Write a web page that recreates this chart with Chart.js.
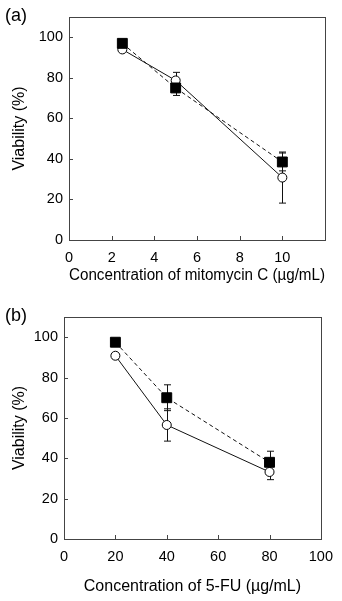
<!DOCTYPE html>
<html lang="en">
<head>
<meta charset="UTF-8">
<title>Viability</title>
<script src="https://cdn.jsdelivr.net/npm/chart.js"></script>
<style>
  body { margin: 0; background: #fff; font-family: 'Liberation Sans', Arial, sans-serif; }
  .panel { position: absolute; left: 0; width: 342px; }
  .tag { position: absolute; left: 5px; font-size: 18px; line-height: 18px; color: #000; }
</style>
</head>
<body>
<div class="panel" style="top:0;height:300px;"><canvas id="chartA" width="342" height="300"></canvas></div>
<div class="tag" style="top:6px;">(a)</div>
<div class="panel" style="top:300px;height:301px;"><canvas id="chartB" width="342" height="301"></canvas></div>
<div class="tag" style="top:306px;">(b)</div>
<script>
// panel (a) mitomycin C
const concMito = [2.5, 5, 10];
const mitoSquare = [97, 75, 38.5];
const mitoSquareErr = [1.5, 3.7, 4.4];
const mitoCircle = [94, 78.7, 30.8];
const mitoCircleErr = [1, 4, 12.6];

// panel (b) 5-FU
const concFU = [20, 40, 80];
const fuSquare = [97.5, 70, 38];
const fuSquareErr = [1.5, 6.4, 5.5];
const fuCircle = [90.8, 56.5, 33.2];
const fuCircleErr = [1.5, 8, 3.8];

const yMax = 110;
const yLabelMax = 100;

const ink = '#111';
const tickFont = { family: "'Liberation Sans', Arial, sans-serif", size: 14.5 };
const titleFont = { family: "'Liberation Sans', Arial, sans-serif", size: 16 };

function pts(xs, ys) {
  return xs.map((x, i) => ({ x: x, y: ys[i] }));
}

const framePlugin = {
  id: 'frame',
  beforeDatasetsDraw(chart) {
    const ctx = chart.ctx;
    const a = chart.chartArea;
    const xs = chart.scales.x, ys = chart.scales.y;
    ctx.save();
    // box
    ctx.strokeStyle = '#444';
    ctx.lineWidth = 1;
    ctx.strokeRect(Math.round(a.left) + 0.5, Math.round(a.top) + 0.5,
      Math.round(a.right - a.left), Math.round(a.bottom - a.top));
    // inside ticks
    ctx.beginPath();
    xs.ticks.forEach(t => {
      if (t.value <= xs.min || t.value >= xs.max) return;
      const px = Math.round(xs.getPixelForValue(t.value)) + 0.5;
      ctx.moveTo(px, a.bottom);
      ctx.lineTo(px, a.bottom - 4);
    });
    ys.ticks.forEach(t => {
      if (t.value <= ys.min || t.value >= ys.max) return;
      const py = Math.round(ys.getPixelForValue(t.value)) + 0.5;
      ctx.moveTo(a.left, py);
      ctx.lineTo(a.left + 4, py);
    });
    ctx.stroke();
    // error bars
    ctx.strokeStyle = ink;
    ctx.beginPath();
    chart.data.datasets.forEach(ds => {
      ds.data.forEach((p, i) => {
        const e = ds.err[i];
        const px = Math.round(xs.getPixelForValue(p.x)) + 0.5;
        const top = ys.getPixelForValue(p.y + e);
        const bot = ys.getPixelForValue(p.y - e);
        ctx.moveTo(px, top); ctx.lineTo(px, bot);
        ctx.moveTo(px - 3.5, top); ctx.lineTo(px + 3.5, top);
        ctx.moveTo(px - 3.5, bot); ctx.lineTo(px + 3.5, bot);
      });
    });
    ctx.stroke();
    ctx.restore();
  }
};

function makeChart(id, xs, sq, sqErr, ci, ciErr, xMax, xStep, xLabelMax, xTitle, axisH, titlePad) {
  return new Chart(document.getElementById(id), {
    type: 'scatter',
    data: {
      datasets: [
        {
          data: pts(xs, sq), err: sqErr,
          showLine: true, borderColor: ink, borderWidth: 1, borderDash: [4, 3],
          pointStyle: 'rect', pointRadius: 7, pointBorderWidth: 1,
          pointBackgroundColor: '#000', pointBorderColor: '#000'
        },
        {
          data: pts(xs, ci), err: ciErr,
          showLine: true, borderColor: ink, borderWidth: 1,
          pointStyle: 'circle', pointRadius: 4.5, pointBorderWidth: 1,
          pointBackgroundColor: '#fff', pointBorderColor: '#000'
        }
      ]
    },
    options: {
      responsive: false,
      animation: false,
      devicePixelRatio: 1,
      layout: { padding: { top: 17, right: 17, left: 0, bottom: 0 } },
      plugins: { legend: { display: false }, tooltip: { enabled: false } },
      scales: {
        x: {
          type: 'linear', min: 0, max: xMax,
          grid: { display: false, drawTicks: false },
          border: { display: false },
          ticks: {
            stepSize: xStep, padding: 9, color: '#000', font: tickFont, maxRotation: 0,
            callback: v => (v > xLabelMax ? '' : v)
          },
          title: { display: true, text: xTitle, color: '#000', font: titleFont, padding: { top: 0, bottom: titlePad } },
          afterFit: s => { s.height = axisH; }
        },
        y: {
          type: 'linear', min: 0, max: yMax,
          grid: { display: false, drawTicks: false },
          border: { display: false },
          ticks: {
            stepSize: 20, padding: 6, color: '#000', font: tickFont,
            callback: v => (v > yLabelMax ? '' : v)
          },
          title: { display: true, text: 'Viability (%)', color: '#000', font: titleFont, padding: { top: 10, bottom: 0 } },
          afterFit: s => { s.width = xMax > 50 ? 64 : 69; }
        }
      }
    },
    plugins: [framePlugin]
  });
}

makeChart('chartA', concMito, mitoSquare, mitoSquareErr, mitoCircle, mitoCircleErr,
  12, 2, 10, 'Concentration of mitomycin C (\u00b5g/mL)', 60, 15);
makeChart('chartB', concFU, fuSquare, fuSquareErr, fuCircle, fuCircleErr,
  100, 20, 100, 'Concentration of 5-FU (\u00b5g/mL)', 62, 5);
</script>
</body>
</html>
